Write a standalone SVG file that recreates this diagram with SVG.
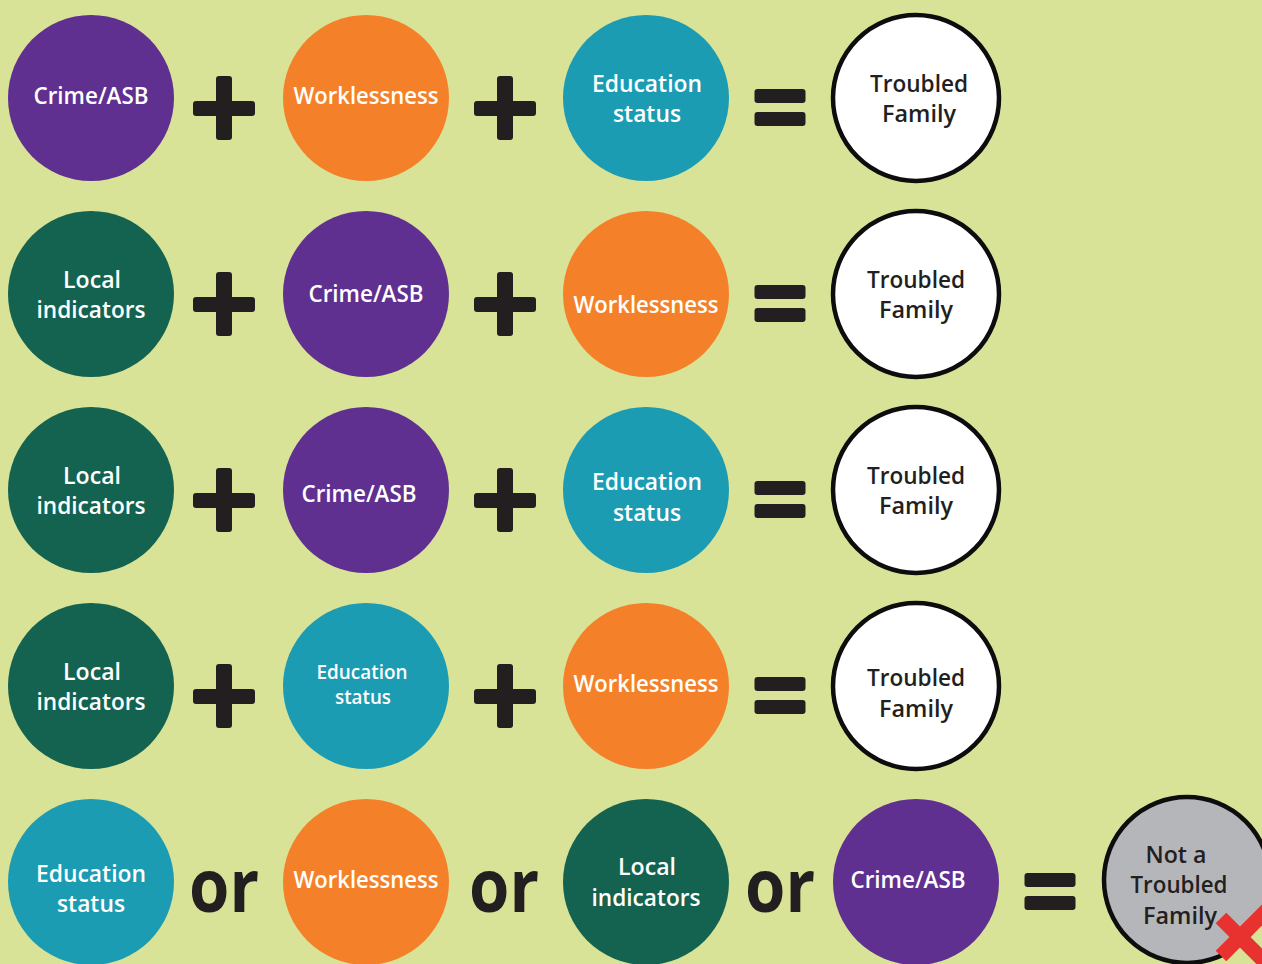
<svg xmlns="http://www.w3.org/2000/svg" width="1262" height="964" viewBox="0 0 1262 964">
<style>
.bg{fill:#d9e397}
.purple{fill:#5f3090}
.orange{fill:#f4812a}
.teal{fill:#1c9cb3}
.green{fill:#136350}
.white{fill:#ffffff;stroke:#0d0d0d;stroke-width:4.5}
.gray{fill:#b5b6ba;stroke:#0d0d0d;stroke-width:4.5}
.t{font-family:"Open Sans","Noto Sans",sans-serif;font-weight:600;font-size:24px;fill:#ffffff;text-anchor:middle}
.d{font-family:"Open Sans","Noto Sans",sans-serif;font-weight:600;font-size:24px;fill:#231f20;text-anchor:middle}
.or{font-family:"Open Sans","Noto Sans",sans-serif;font-weight:700;font-size:74px;fill:#231f20}
.op{fill:#231f20}
.x{stroke:#e8322f;stroke-width:15}
</style>
<defs>
<g id="plus"><rect x="-8" y="-32" width="16" height="64" rx="3"/><rect x="-31" y="-7" width="62" height="15" rx="3"/></g>
<g id="eq"><rect x="-25.5" y="-18" width="51" height="14" rx="3"/><rect x="-25.5" y="5" width="51" height="14" rx="3"/></g>
</defs>
<rect class="bg" x="0" y="0" width="1262" height="964"/>

<g id="operators" class="op">
<use href="#plus" x="224" y="108"/><use href="#plus" x="505" y="108"/><use href="#eq" x="780" y="107"/>
<use href="#plus" x="224" y="304"/><use href="#plus" x="505" y="304"/><use href="#eq" x="780" y="303"/>
<use href="#plus" x="224" y="500"/><use href="#plus" x="505" y="500"/><use href="#eq" x="780" y="499"/>
<use href="#plus" x="224" y="696"/><use href="#plus" x="505" y="696"/><use href="#eq" x="780" y="695"/>
<use href="#eq" x="1050" y="891"/>
<text class="or" x="189" y="912" textLength="70" lengthAdjust="spacingAndGlyphs">or</text>
<text class="or" x="469" y="912" textLength="70" lengthAdjust="spacingAndGlyphs">or</text>
<text class="or" x="745" y="912" textLength="70" lengthAdjust="spacingAndGlyphs">or</text>
</g>

<!-- Row 1 -->
<g id="r1c1"><circle class="purple" cx="91" cy="98" r="83"/><text class="t" x="91" y="104" textLength="115" lengthAdjust="spacingAndGlyphs">Crime/ASB</text></g>
<g id="r1c2"><circle class="orange" cx="366" cy="98" r="83"/><text class="t" x="366" y="104" textLength="145" lengthAdjust="spacingAndGlyphs">Worklessness</text></g>
<g id="r1c3"><circle class="teal" cx="646" cy="98" r="83"/><text class="t" x="647" y="92" textLength="110" lengthAdjust="spacingAndGlyphs">Education</text><text class="t" x="647" y="122" textLength="68" lengthAdjust="spacingAndGlyphs">status</text></g>
<g id="r1c4"><circle class="white" cx="916" cy="98" r="83"/><text class="d" x="919" y="92" textLength="98" lengthAdjust="spacingAndGlyphs">Troubled</text><text class="d" x="919" y="122" textLength="74" lengthAdjust="spacingAndGlyphs">Family</text></g>

<!-- Row 2 -->
<g id="r2c1"><circle class="green" cx="91" cy="294" r="83"/><text class="t" x="92" y="288" textLength="58" lengthAdjust="spacingAndGlyphs">Local</text><text class="t" x="91" y="318" textLength="109" lengthAdjust="spacingAndGlyphs">indicators</text></g>
<g id="r2c2"><circle class="purple" cx="366" cy="294" r="83"/><text class="t" x="366" y="302" textLength="115" lengthAdjust="spacingAndGlyphs">Crime/ASB</text></g>
<g id="r2c3"><circle class="orange" cx="646" cy="294" r="83"/><text class="t" x="646" y="313" textLength="145" lengthAdjust="spacingAndGlyphs">Worklessness</text></g>
<g id="r2c4"><circle class="white" cx="916" cy="294" r="83"/><text class="d" x="916" y="288" textLength="98" lengthAdjust="spacingAndGlyphs">Troubled</text><text class="d" x="916" y="318" textLength="74" lengthAdjust="spacingAndGlyphs">Family</text></g>

<!-- Row 3 -->
<g id="r3c1"><circle class="green" cx="91" cy="490" r="83"/><text class="t" x="92" y="484" textLength="58" lengthAdjust="spacingAndGlyphs">Local</text><text class="t" x="91" y="514" textLength="109" lengthAdjust="spacingAndGlyphs">indicators</text></g>
<g id="r3c2"><circle class="purple" cx="366" cy="490" r="83"/><text class="t" x="359" y="502" textLength="115" lengthAdjust="spacingAndGlyphs">Crime/ASB</text></g>
<g id="r3c3"><circle class="teal" cx="646" cy="490" r="83"/><text class="t" x="647" y="490" textLength="110" lengthAdjust="spacingAndGlyphs">Education</text><text class="t" x="647" y="521" textLength="68" lengthAdjust="spacingAndGlyphs">status</text></g>
<g id="r3c4"><circle class="white" cx="916" cy="490" r="83"/><text class="d" x="916" y="484" textLength="98" lengthAdjust="spacingAndGlyphs">Troubled</text><text class="d" x="916" y="514" textLength="74" lengthAdjust="spacingAndGlyphs">Family</text></g>

<!-- Row 4 -->
<g id="r4c1"><circle class="green" cx="91" cy="686" r="83"/><text class="t" x="92" y="680" textLength="58" lengthAdjust="spacingAndGlyphs">Local</text><text class="t" x="91" y="710" textLength="109" lengthAdjust="spacingAndGlyphs">indicators</text></g>
<g id="r4c2"><circle class="teal" cx="366" cy="686" r="83"/><text class="t" x="362" y="679" style="font-size:19px" textLength="91" lengthAdjust="spacingAndGlyphs">Education</text><text class="t" x="363" y="704" style="font-size:19px" textLength="56" lengthAdjust="spacingAndGlyphs">status</text></g>
<g id="r4c3"><circle class="orange" cx="646" cy="686" r="83"/><text class="t" x="646" y="692" textLength="145" lengthAdjust="spacingAndGlyphs">Worklessness</text></g>
<g id="r4c4"><circle class="white" cx="916" cy="686" r="83"/><text class="d" x="916" y="686" textLength="98" lengthAdjust="spacingAndGlyphs">Troubled</text><text class="d" x="916" y="717" textLength="74" lengthAdjust="spacingAndGlyphs">Family</text></g>

<!-- Row 5 -->
<g id="r5c1"><circle class="teal" cx="91" cy="882" r="83"/><text class="t" x="91" y="882" textLength="110" lengthAdjust="spacingAndGlyphs">Education</text><text class="t" x="91" y="912" textLength="68" lengthAdjust="spacingAndGlyphs">status</text></g>
<g id="r5c2"><circle class="orange" cx="366" cy="882" r="83"/><text class="t" x="366" y="888" textLength="145" lengthAdjust="spacingAndGlyphs">Worklessness</text></g>
<g id="r5c3"><circle class="green" cx="646" cy="882" r="83"/><text class="t" x="647" y="875" textLength="58" lengthAdjust="spacingAndGlyphs">Local</text><text class="t" x="646" y="906" textLength="109" lengthAdjust="spacingAndGlyphs">indicators</text></g>
<g id="r5c4"><circle class="purple" cx="916" cy="882" r="83"/><text class="t" x="908" y="888" textLength="115" lengthAdjust="spacingAndGlyphs">Crime/ASB</text></g>
<g id="r5c5"><circle class="gray" cx="1187" cy="880" r="83"/><text class="d" x="1176" y="863" textLength="61" lengthAdjust="spacingAndGlyphs">Not a</text><text class="d" x="1179" y="893" textLength="97" lengthAdjust="spacingAndGlyphs">Troubled</text><text class="d" x="1180" y="924" textLength="74" lengthAdjust="spacingAndGlyphs">Family</text>
<line class="x" x1="1221" y1="918" x2="1270" y2="967"/><line class="x" x1="1221" y1="956" x2="1270" y2="907"/></g>
</svg>
